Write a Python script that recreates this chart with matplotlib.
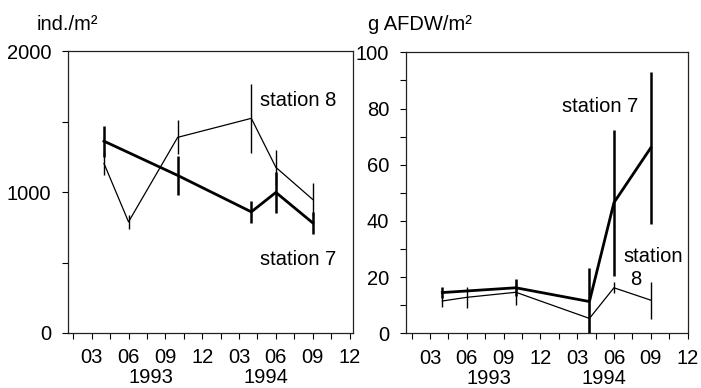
import matplotlib
matplotlib.use("Agg")
import matplotlib.pyplot as plt
import matplotlib.transforms as mtransforms

plt.rcParams['font.family'] = ['Liberation Sans', 'DejaVu Sans']

# months counted from Jan 1993 = 1 (Mar 1994 = 15)
month_labels = ["03", "06", "09", "12", "03", "06", "09", "12"]
month_label_pos = [3, 6, 9, 12, 15, 18, 21, 24]
year_labels = ["1993", "1994"]
year_label_pos = [7.8, 17.2]

# Abundance (ind./m²)
abund_st7_x = [4, 10, 16, 18, 21]
abund_st7 = [1362, 1119, 860, 998, 782]
abund_st7_err = [110, 140, 80, 145, 80]
abund_st8_x = [4, 6, 10, 16, 18, 21]
abund_st8 = [1204, 789, 1389, 1524, 1176, 948]
abund_st8_err = [80, 50, 120, 245, 125, 120]

# Biomass (g AFDW/m²)
biom_st7_x = [4, 10, 16, 18, 21]
biom_st7 = [14.5, 16.2, 11.3, 46.5, 66.0]
biom_st7_err = [2.0, 3.0, 11.8, 26.0, 27.0]
biom_st8_x = [4, 6, 10, 16, 18, 21]
biom_st8 = [11.5, 12.8, 14.6, 5.3, 16.2, 11.8]
biom_st8_err = [2.0, 3.8, 4.5, 5.3, 2.0, 6.6]

FS = 14.5

fig = plt.figure(figsize=(7.01, 3.88), dpi=100)
ax1 = fig.add_axes([68/701, 1-333/388, (353-68)/701, (333-51.3)/388])
ax2 = fig.add_axes([406/701, 1-333.3/388, (688-406)/701, (333.3-52.3)/388])

def draw(ax, x7, y7, e7, x8, y8, e8):
    ax.errorbar(x8, y8, yerr=e8, color='black', lw=0.9, elinewidth=1.0,
                capsize=0, zorder=3)
    ax.errorbar(x7, y7, yerr=e7, color='black', lw=2.0, elinewidth=1.8,
                capsize=0, zorder=4)

draw(ax1, abund_st7_x, abund_st7, abund_st7_err, abund_st8_x, abund_st8, abund_st8_err)
draw(ax2, biom_st7_x, biom_st7, biom_st7_err, biom_st8_x, biom_st8, biom_st8_err)

ax1.set_xlim(1.07, 24.28)
ax1.set_ylim(0, 2000)
ax1.set_yticks([0, 500, 1000, 1500, 2000])
ax1.set_yticklabels(["0", "", "1000", "", "2000"])

ax2.set_xlim(1.04, 24.04)
ax2.set_ylim(0, 100)
ax2.set_yticks(list(range(0, 101, 10)))
ax2.set_yticklabels([str(v) if v % 20 == 0 else "" for v in range(0, 101, 10)])

tick_pos = [1.5 + 1.5 * i for i in range(16)]
tick_labs = []
for p in tick_pos:
    if p in month_label_pos:
        tick_labs.append(month_labels[month_label_pos.index(p)])
    else:
        tick_labs.append("")

for ax in (ax1, ax2):
    ax.set_xticks(tick_pos)
    ax.set_xticklabels(tick_labs, fontsize=FS)
    ax.tick_params(axis='x', direction='out', length=4, width=0.8, pad=7)
    ax.tick_params(axis='y', direction='out', length=4, width=0.8, labelsize=FS, pad=8)
    for s in ax.spines.values():
        s.set_linewidth(0.9)
        s.set_color('#222222')
    trans = mtransforms.blended_transform_factory(ax.transData, ax.transAxes)
    for lab, pos in zip(year_labels, year_label_pos):
        ax.text(pos, -0.193, lab, transform=trans, ha='center', va='bottom', fontsize=FS)

fig.text(37/701, 1-25/388, "ind./m²", ha='left', va='center', fontsize=FS)
fig.text(368/701, 1-25/388, "g AFDW/m²", ha='left', va='center', fontsize=FS)

ax1.text(16.7, 1650, "station 8", ha='left', va='center', fontsize=FS)
ax1.text(16.7, 520, "station 7", ha='left', va='center', fontsize=FS)
ax2.text(13.75, 80.7, "station 7", ha='left', va='center', fontsize=FS)
ax2.text(18.75, 27.3, "station", ha='left', va='center', fontsize=FS)
ax2.text(19.8, 19.3, "8", ha='center', va='center', fontsize=FS)

fig.savefig("out.png", dpi=100)
